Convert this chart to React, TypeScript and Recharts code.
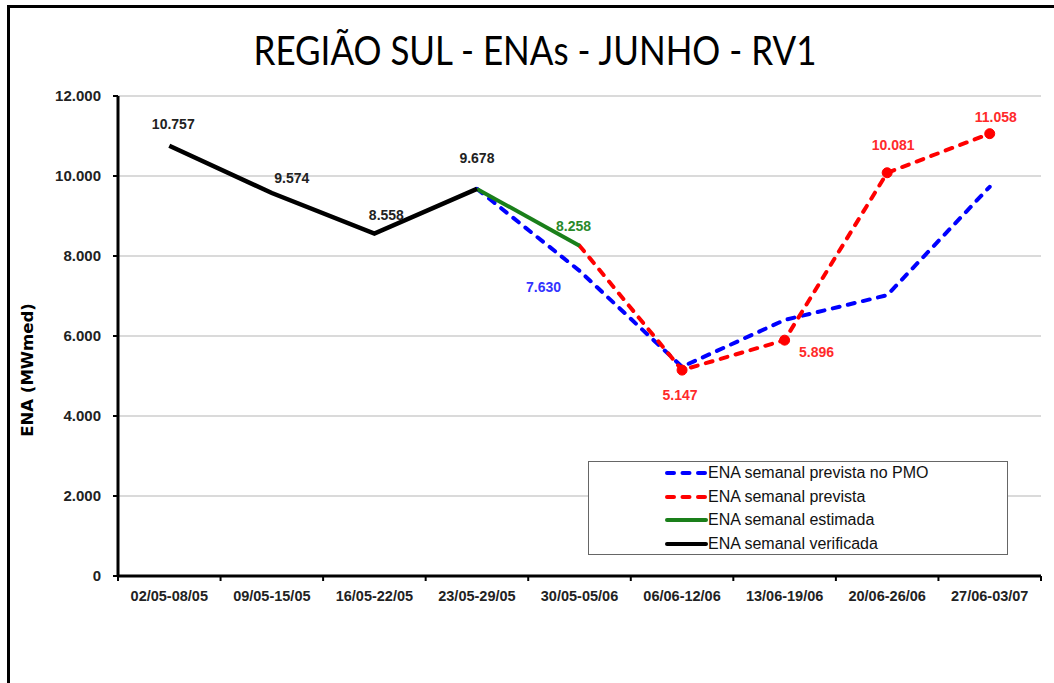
import React from 'react';
import { LineChart, Line, XAxis, YAxis, CartesianGrid, Legend, LabelList } from 'recharts';

const categories = [
  '02/05-08/05', '09/05-15/05', '16/05-22/05', '23/05-29/05', '30/05-05/06',
  '06/06-12/06', '13/06-19/06', '20/06-26/06', '27/06-03/07',
];
const verificada = [10757, 9574, 8558, 9678, null, null, null, null, null];
const estimada = [null, null, null, 9678, 8258, null, null, null, null];
const previstaPMO = [null, null, null, 9678, 7630, 5230, 6400, 7020, 9730];
const prevista = [null, null, null, null, 8258, 5147, 5896, 10081, 11058];
const yTicks = [0, 2000, 4000, 6000, 8000, 10000, 12000];

const seriesNames = {
  pmo: 'ENA semanal prevista no PMO',
  prev: 'ENA semanal prevista',
  est: 'ENA semanal estimada',
  ver: 'ENA semanal verificada',
};

const data = categories.map((cat, i) => ({
  cat,
  pmo: previstaPMO[i],
  prev: prevista[i],
  est: estimada[i],
  ver: verificada[i],
}));

// label placement offsets (dx, dy) per point index, relative to the point
const verOffsets: Record<number, [number, number]> = { 0: [4, -22], 1: [20, -15], 2: [12, -19], 3: [0, -31] };
const estOffsets: Record<number, [number, number]> = { 4: [-6, -20] };
const pmoOffsets: Record<number, [number, number]> = { 4: [-36, 16] };
const prevOffsets: Record<number, [number, number]> = { 5: [-2, 25], 6: [32, 12], 7: [6, -28], 8: [6, -17] };
const prevMarkerIdx = [5, 6, 7, 8];

const ARIAL = '"Liberation Sans", Arial, sans-serif';
const CALIBRI = 'Lato, "Open Sans", sans-serif';
const BAND = 923 / 9;

const fmt = (v: number) => String(v).replace(/\B(?=(\d{3})+(?!\d))/g, '.');

const makeLabel = (offsets: Record<number, [number, number]>, color: string) => (props: any) => {
  const { x, y, value, index } = props;
  const off = offsets[index];
  if (!off || value == null) return null;
  return (
    <text
      x={x + off[0]}
      y={y + off[1] + 5}
      textAnchor="middle"
      fontFamily={ARIAL}
      fontWeight="bold"
      fontSize={14}
      fill={color}
    >
      {fmt(value)}
    </text>
  );
};

const XTick = (props: any) => {
  const { x, y, payload, index } = props;
  const half = BAND / 2;
  return (
    <g>
      <line x1={x - half} x2={x - half} y1={y} y2={y + 5} stroke="#000" strokeWidth={2} />
      {index === categories.length - 1 && (
        <line x1={x + half} x2={x + half} y1={y} y2={y + 5} stroke="#000" strokeWidth={2} />
      )}
      <text x={x} y={y + 25} textAnchor="middle" fontFamily={ARIAL} fontWeight="bold" fontSize={14.5} fill="#222">
        {payload.value}
      </text>
    </g>
  );
};

const YTitle = () => (
  <text
    x={27}
    y={370}
    transform="rotate(-90, 27, 370)"
    textAnchor="middle"
    dominantBaseline="central"
    fontFamily='"DejaVu Sans", sans-serif'
    fontWeight="bold"
    fontSize={16.5}
    fill="#000"
  >
    ENA (MWmed)
  </text>
);

const legendItems = [
  { key: 'pmo', color: '#0000ff', dash: '7 8.5' },
  { key: 'prev', color: '#ff0000', dash: '7 8.5' },
  { key: 'est', color: '#1a7f1a', dash: undefined },
  { key: 'ver', color: '#000000', dash: undefined },
];

const LegendBox = () => (
  <div style={{ position: 'relative', width: 420, height: 94 }}>
    {legendItems.map((it, i) => (
      <div
        key={it.key}
        style={{
          position: 'absolute',
          left: 76,
          top: i * 23.5,
          height: 22,
          display: 'flex',
          alignItems: 'center',
        }}
      >
        <svg width={43} height={10} style={{ display: 'block' }}>
          <line
            x1={2}
            x2={41}
            y1={5}
            y2={5}
            stroke={it.color}
            strokeWidth={4}
            strokeDasharray={it.dash}
            strokeLinecap="round"
          />
        </svg>
        <span style={{ fontFamily: ARIAL, fontSize: 16, color: '#111', whiteSpace: 'nowrap', lineHeight: '22px' }}>
          {seriesNames[it.key as keyof typeof seriesNames]}
        </span>
      </div>
    ))}
  </div>
);

const prevDot = (props: any) => {
  const { cx, cy, index } = props;
  if (!prevMarkerIdx.includes(index) || cy == null) return <g key={`d${index}`} />;
  return <circle key={`d${index}`} cx={cx} cy={cy} r={5} fill="#ff0000" stroke="#ff0000" />;
};

export default function App() {
  return (
    <div style={{ position: 'absolute', left: 0, top: 0, width: 1054, height: 683, background: '#fff', overflow: 'hidden' }}>
      <div
        style={{
          position: 'absolute',
          left: 7,
          top: 5,
          width: 1100,
          height: 720,
          borderLeft: '3px solid #000',
          borderTop: '3px solid #000',
        }}
      />
      <svg width={1054} height={90} style={{ position: 'absolute', left: 0, top: 0 }}>
        <text
          x={535}
          y={65}
          textAnchor="middle"
          fontFamily={CALIBRI}
          fontSize={40}
          fill="#000"
          textLength={563}
          lengthAdjust="spacingAndGlyphs"
        >
          REGIÃO SUL - ENAs - JUNHO - RV1
        </text>
      </svg>
      <div style={{ position: 'absolute', left: 0, top: 0 }}>
        <LineChart width={1054} height={683} data={data} margin={{ top: 96, right: 13, bottom: 77, left: 0 }}>
          <CartesianGrid vertical={false} stroke="#b5b5b5" strokeWidth={1} />
          <XAxis
            dataKey="cat"
            height={30}
            interval={0}
            padding={{ left: BAND / 2, right: BAND / 2 }}
            tickLine={false}
            tickSize={0}
            tickMargin={0}
            axisLine={{ stroke: '#000', strokeWidth: 3 }}
            tick={<XTick />}
          />
          <YAxis
            width={118}
            domain={[0, 12000]}
            ticks={yTicks}
            interval={0}
            tickFormatter={(v: number) => fmt(v)}
            axisLine={{ stroke: '#000', strokeWidth: 3 }}
            tickLine={{ stroke: '#000', strokeWidth: 2 }}
            tickSize={5}
            tickMargin={12}
            tick={{ fontFamily: ARIAL, fontWeight: 'bold', fontSize: 15, fill: '#222' }}
            label={<YTitle />}
          />
          <Legend
            layout="horizontal"
            verticalAlign="middle"
            align="center"
            content={<LegendBox />}
            wrapperStyle={{
              position: 'absolute',
              left: 588,
              top: 461,
              width: 420,
              height: 94,
              border: '1.5px solid #666',
              background: '#fff',
              boxSizing: 'border-box',
            }}
          />
          <Line
            dataKey="pmo"
            stroke="#0000ff"
            strokeWidth={4}
            strokeDasharray="7 8.5"
            strokeLinecap="round"
            dot={false}
            activeDot={false}
            isAnimationActive={false}
          >
            <LabelList dataKey="pmo" content={makeLabel(pmoOffsets, '#3333ff')} />
          </Line>
          <Line
            dataKey="prev"
            stroke="#ff0000"
            strokeWidth={4}
            strokeDasharray="7 8.5"
            strokeLinecap="round"
            dot={prevDot}
            activeDot={false}
            isAnimationActive={false}
          >
            <LabelList dataKey="prev" content={makeLabel(prevOffsets, '#ff2a2a')} />
          </Line>
          <Line
            dataKey="est"
            stroke="#1a7f1a"
            strokeWidth={4}
            dot={false}
            activeDot={false}
            isAnimationActive={false}
          >
            <LabelList dataKey="est" content={makeLabel(estOffsets, '#2a8a2a')} />
          </Line>
          <Line
            dataKey="ver"
            stroke="#000"
            strokeWidth={4.5}
            dot={false}
            activeDot={false}
            isAnimationActive={false}
          >
            <LabelList dataKey="ver" content={makeLabel(verOffsets, '#222')} />
          </Line>
        </LineChart>
      </div>
    </div>
  );
}
